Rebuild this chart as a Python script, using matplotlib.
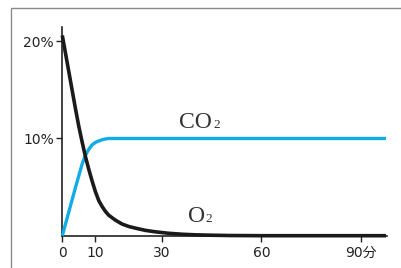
import matplotlib
matplotlib.use("Agg")
import matplotlib.pyplot as plt
from matplotlib.patches import Rectangle

plt.rcParams['font.family'] = ['DejaVu Sans', 'Noto Sans CJK JP']

# O2 concentration (%) over time (minutes)
o2_t = [0, 1, 2, 3, 4, 5, 6, 7, 8, 9, 10, 11, 12, 13, 14, 16, 18, 20, 22, 25,
        28, 32, 36, 40, 45, 50, 60, 70, 80, 90, 97.5]
o2_v = [20.6, 18.7, 16.8, 14.9, 13.0, 11.2, 9.6, 8.1, 6.8, 5.6, 4.5, 3.6, 3.0,
        2.5, 2.1, 1.6, 1.2, 0.95, 0.78, 0.55, 0.4, 0.25, 0.15, 0.09, 0.05,
        0.02, 0.0, 0.0, 0.0, 0.0, 0.0]

# CO2 concentration (%) over time (minutes)
co2_t = [0, 2, 4, 6, 7, 8, 9, 10, 11, 12, 13, 14, 20, 40, 60, 80, 97.5]
co2_v = [0.0, 2.5, 5.0, 7.4, 8.3, 8.9, 9.35, 9.6, 9.75, 9.87, 9.95, 10.0,
         10.0, 10.0, 10.0, 10.0, 10.0]

x_ticks = [0, 10, 30, 60, 90]
x_labels = ['0', '10', '30', '60', '90分']
y_ticks = [10, 20]
y_labels = ['10%', '20%']

W, H = 401, 268
fig = plt.figure(figsize=(W / 100, H / 100), dpi=100)

# outer gray frame (left and top visible)
fig.patches.append(Rectangle((10.5 / W, -0.2), 1.2, 1 - 7.5 / H + 0.2,
                             transform=fig.transFigure, fill=False,
                             edgecolor='#8a8a8a', linewidth=1.0))

left, right = 62.3 / W, 387.3 / W
bottom, top = 1 - 235.7 / H, 1 - 26.7 / H
ax = fig.add_axes([left, bottom, right - left, top - bottom])
ax.set_xlim(0, 97.9)
ax.set_ylim(0, 21.5)
ax.patch.set_alpha(0)

for s in ['top', 'right']:
    ax.spines[s].set_visible(False)
for s in ['left', 'bottom']:
    ax.spines[s].set_color('#222222')
    ax.spines[s].set_linewidth(1.2)

ax.plot(co2_t, co2_v, color='#10ACE6', linewidth=2.4, clip_on=False,
        solid_capstyle='butt', zorder=3)
ax.plot(o2_t, o2_v, color='#1a1a1a', linewidth=2.6, clip_on=False,
        solid_capstyle='butt', zorder=4)

ax.set_xticks(x_ticks)
ax.set_xticklabels(x_labels)
ax.set_yticks(y_ticks)
ax.set_yticklabels(y_labels)
ax.tick_params(axis='x', direction='out', length=4.5, width=1.0,
               color='#222222', pad=3, labelsize=10, labelcolor='#222222')
ax.tick_params(axis='y', direction='out', length=4.5, width=1.0,
               color='#222222', pad=1.5, labelsize=10, labelcolor='#222222')

serif = ['Liberation Serif', 'DejaVu Serif']
co2_base = 11.05
o2_base = 1.44
t1 = ax.text(40.2, co2_base, 'CO', family=serif, fontsize=17, color='#333333',
             ha='center', va='baseline')
ax.annotate('2', xy=(1, co2_base), xycoords=(t1, 'data'), family=serif,
            fontsize=9.5, color='#333333', ha='left', va='baseline',
            xytext=(0.6, 0), textcoords='offset points')
t2 = ax.text(40.3, o2_base, 'O', family=serif, fontsize=17, color='#333333',
             ha='center', va='baseline')
ax.annotate('2', xy=(1, o2_base), xycoords=(t2, 'data'), family=serif,
            fontsize=9.5, color='#333333', ha='left', va='baseline',
            xytext=(0.6, 0), textcoords='offset points')

fig.savefig('out.png', dpi=100)
